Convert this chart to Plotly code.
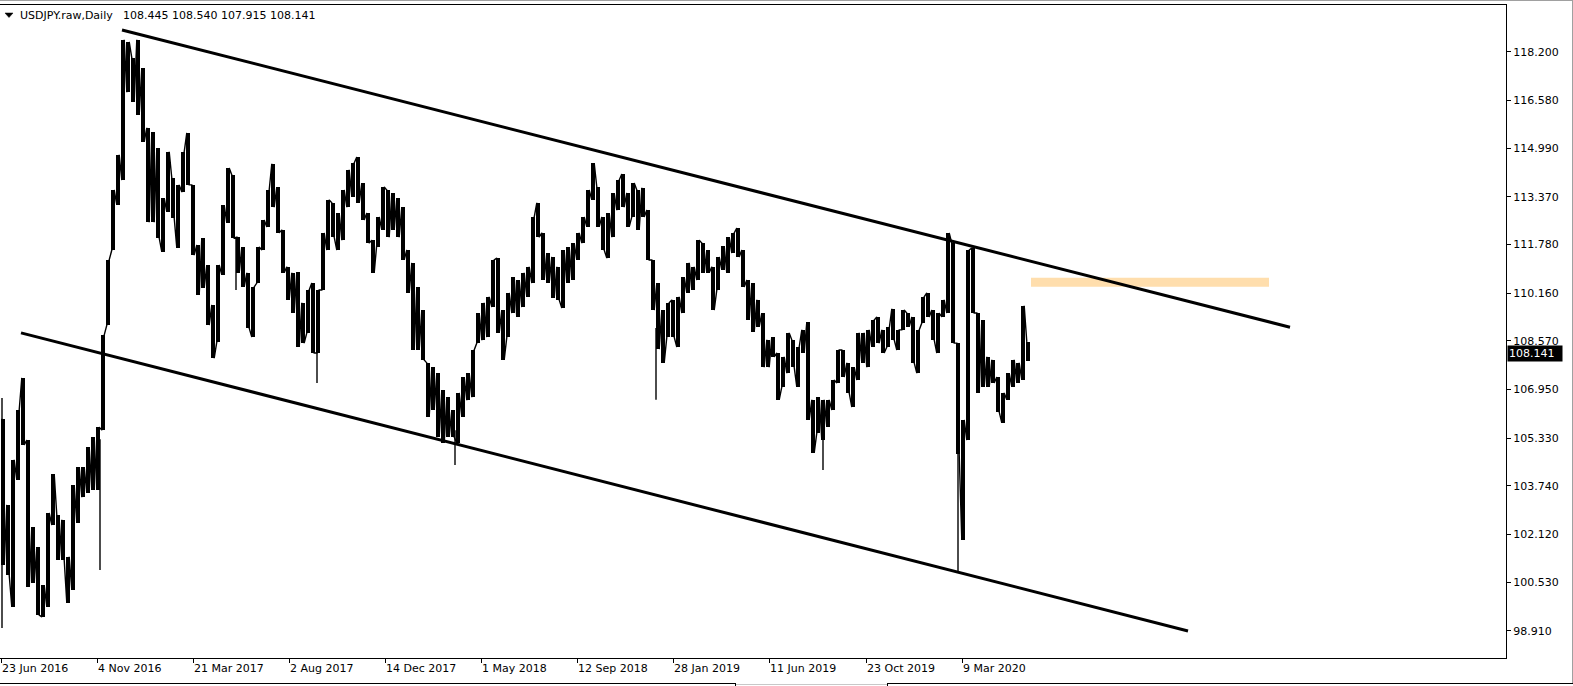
import plotly.graph_objects as go

# ---------------- data ----------------
SYMBOL = "USDJPY.raw,Daily"
LAST_OHLC = [108.445, 108.540, 107.915, 108.141]
CURRENT_PRICE = 108.141

BARS_PER_SAMPLE = 5  # each sample below summarises 5 consecutive daily bars

sample_high = [
    105.98, 103.11, 104.61, 106.27, 107.34, 105.27, 102.37, 101.71, 100.44, 102.84,
    104.14, 102.77, 102.61, 101.38, 103.77, 104.37, 104.37, 105.04, 105.37, 105.70,
    108.77, 111.27, 113.60, 114.77, 118.60, 118.53, 118.00, 118.60, 117.66, 115.67,
    115.53, 115.00, 113.33, 114.87, 114.00, 113.77, 114.87, 115.50, 113.77, 111.77,
    112.00, 111.10, 109.77, 111.10, 113.10, 114.33, 114.10, 112.03, 111.70, 110.84,
    110.37, 111.70, 112.60, 113.60, 114.47, 113.70, 112.27, 111.04, 110.84, 110.87,
    109.84, 110.27, 110.50, 110.27, 112.17, 113.27, 113.17, 112.83, 113.60, 114.27,
    114.50, 114.70, 113.83, 112.83, 111.93, 112.70, 113.70, 113.60, 113.50, 113.33,
    113.03, 111.60, 111.17, 110.37, 109.60, 107.84, 107.70, 107.50, 106.94, 106.70,
    106.27, 106.84, 107.37, 107.50, 108.27, 109.50, 109.84, 110.04, 111.27, 111.33,
    109.60, 110.17, 110.70, 110.60, 110.84, 111.04, 112.70, 113.17, 112.17, 111.50,
    111.37, 111.04, 111.60, 111.70, 111.83, 112.17, 112.70, 113.60, 114.50, 113.70,
    112.70, 112.83, 113.50, 113.93, 114.13, 113.50, 113.83, 113.60, 113.67, 112.93,
    111.27, 110.50, 109.60, 109.84, 109.94, 110.04, 110.70, 111.17, 111.04, 111.93,
    111.83, 111.60, 111.04, 111.37, 111.73, 112.03, 112.17, 112.33, 111.60, 110.60,
    110.50, 109.94, 109.50, 108.61, 108.70, 108.17, 108.04, 108.84, 108.61, 108.37,
    108.94, 109.20, 106.61, 106.70, 106.61, 106.61, 107.27, 108.27, 108.27, 107.84,
    107.70, 108.84, 108.84, 108.94, 109.27, 109.37, 108.94, 109.04, 109.64, 108.94,
    109.60, 109.50, 109.37, 108.94, 110.04, 110.17, 109.60, 109.50, 109.94, 112.17,
    111.83, 108.50, 105.94, 111.60, 111.67, 109.50, 109.27, 108.04, 107.94, 107.37,
    106.84, 107.50, 107.94, 107.84, 109.74, 108.54,
]

sample_low = [
    101.11, 100.78, 99.71, 103.94, 105.11, 100.38, 100.51, 99.44, 99.38, 99.71,
    102.44, 101.28, 101.28, 99.84, 100.28, 102.51, 103.37, 103.51, 103.61, 103.61,
    105.60, 109.10, 111.60, 113.10, 113.93, 116.86, 116.53, 116.10, 115.20, 112.53,
    112.53, 112.00, 111.54, 112.87, 112.67, 111.67, 113.53, 113.77, 111.43, 110.10,
    110.34, 109.10, 108.00, 108.54, 110.77, 112.50, 112.00, 110.84, 110.37, 109.00,
    108.70, 110.50, 111.60, 112.37, 113.03, 112.17, 110.84, 109.94, 109.50, 108.37,
    108.50, 108.84, 108.17, 108.17, 110.27, 111.60, 112.03, 111.60, 111.93, 113.03,
    113.37, 113.17, 112.60, 111.83, 110.84, 111.70, 112.27, 112.03, 112.27, 112.03,
    111.27, 110.17, 108.27, 108.27, 107.94, 106.04, 106.27, 105.37, 105.17, 105.37,
    105.37, 105.17, 106.04, 106.60, 106.70, 108.50, 108.60, 108.70, 109.70, 108.84,
    107.94, 108.70, 109.50, 109.37, 109.70, 110.04, 110.50, 112.03, 110.60, 110.50,
    110.00, 109.94, 109.67, 110.50, 110.60, 111.27, 111.83, 112.37, 113.27, 112.37,
    111.60, 111.33, 112.03, 112.93, 113.03, 112.37, 112.70, 112.27, 112.70, 111.27,
    109.60, 108.30, 107.84, 108.70, 108.70, 108.37, 109.50, 110.17, 110.27, 110.60,
    110.84, 110.84, 109.60, 110.27, 110.94, 110.84, 111.50, 111.37, 110.37, 109.27,
    108.87, 109.04, 107.70, 107.70, 108.04, 106.61, 107.04, 107.50, 107.70, 107.04,
    108.17, 105.94, 104.84, 105.51, 105.27, 105.71, 106.27, 107.17, 107.37, 106.84,
    106.37, 107.27, 107.84, 107.70, 108.37, 108.50, 108.17, 108.37, 108.61, 108.27,
    108.94, 109.04, 107.84, 107.50, 109.17, 109.37, 108.61, 108.17, 109.37, 109.50,
    108.50, 104.80, 101.94, 105.27, 109.50, 106.84, 107.04, 107.04, 107.17, 106.21,
    105.84, 106.61, 107.04, 107.17, 107.27, 107.915,
]

# single-day extremes (bar number, high, low)
wick_bar = [1, 99, 235, 316, 454, 655, 822, 957]
wick_high = [106.67, 105.30, 112.00, 108.50, 105.60, 109.00, 105.80, 105.30]
wick_low = [99.01, 100.94, 110.27, 107.17, 104.44, 106.61, 104.27, 100.88]

tick_bars = [0, 96, 192, 288, 384, 480, 576, 672, 768, 865, 961]
tick_dates = ["23 Jun 2016", "4 Nov 2016", "21 Mar 2017", "2 Aug 2017",
              "14 Dec 2017", "1 May 2018", "12 Sep 2018", "28 Jan 2019",
              "11 Jun 2019", "23 Oct 2019", "9 Mar 2020"]

price_ticks = [118.200, 116.580, 114.990, 113.370, 111.780, 110.160, 108.570,
               106.950, 105.330, 103.740, 102.120, 100.530, 98.910]

upper_channel_bar = [121, 1289]
upper_channel_price = [118.93, 109.03]
lower_channel_bar = [20, 1187]
lower_channel_price = [108.84, 98.91]

zone_bar = [1030, 1268]
zone_price = [110.38, 110.68]

# ---------------- layout constants ----------------
W, H = 1573, 686
PL, PR, PT, PB = 0, 1506, 5, 658
FONT = "DejaVu Sans"
X_RANGE = [-1, 1505]
Y_RANGE = [98.010, 119.762]


def px_x(p):
    return (p - PL) / (PR - PL)


def px_y(p):
    return (PB - p) / (PB - PT)


n = len(sample_high)
mids = [(h + l) / 2 for h, l in zip(sample_high, sample_low)]
centers = [BARS_PER_SAMPLE * k + 2 for k in range(n)]

fig = go.Figure()

# range of each 5-day group as a floating bar
fig.add_trace(go.Bar(x=centers,
                     y=[h - l for h, l in zip(sample_high, sample_low)],
                     base=sample_low, width=4.2,
                     marker=dict(color="#000000", line=dict(width=0)),
                     hoverinfo="skip", showlegend=False))

# connecting strokes in the order the price travelled
zx, zy = [], []
for k in range(n):
    prv = mids[k - 1] if k > 0 else mids[k]
    nxt = mids[k + 1] if k + 1 < n else mids[k]
    rising = nxt >= prv
    first, second = ((sample_low[k], sample_high[k]) if rising
                     else (sample_high[k], sample_low[k]))
    zx += [centers[k] - 1.2, centers[k] + 1.2]
    zy += [first, second]
fig.add_trace(go.Scatter(x=zx, y=zy, mode="lines",
                         line=dict(color="#000000", width=1.4),
                         hoverinfo="skip", showlegend=False))

wx, wy = [], []
for b, hi, lo in zip(wick_bar, wick_high, wick_low):
    wx += [b, b, None]
    wy += [hi, lo, None]
fig.add_trace(go.Scatter(x=wx, y=wy, mode="lines",
                         line=dict(color="#000000", width=1.4),
                         hoverinfo="skip", showlegend=False))

fig.add_trace(go.Scatter(x=upper_channel_bar, y=upper_channel_price, mode="lines",
                         line=dict(color="#000000", width=3), showlegend=False,
                         hoverinfo="skip"))
fig.add_trace(go.Scatter(x=lower_channel_bar, y=lower_channel_price, mode="lines",
                         line=dict(color="#000000", width=3), showlegend=False,
                         hoverinfo="skip"))

shapes = []
shapes.append(dict(type="rect", xref="x", yref="y", layer="below",
                   x0=zone_bar[0], x1=zone_bar[1], y0=zone_price[0], y1=zone_price[1],
                   fillcolor="#FFDEAD", line=dict(width=0)))

tri = (f"M {px_x(5)} {px_y(13)} L {px_x(13)} {px_y(13)} "
       f"L {px_x(9)} {px_y(17.5)} Z")
shapes.append(dict(type="path", xref="paper", yref="paper", path=tri,
                   fillcolor="#000000", line=dict(color="#000000", width=0.5)))


def hline(x0, x1, y, color):
    return dict(type="line", xref="paper", yref="paper",
                x0=px_x(x0), x1=px_x(x1), y0=px_y(y), y1=px_y(y),
                line=dict(color=color, width=1))


def vline(x, y0, y1, color):
    return dict(type="line", xref="paper", yref="paper",
                x0=px_x(x), x1=px_x(x), y0=px_y(y0), y1=px_y(y1),
                line=dict(color=color, width=1))


shapes += [hline(0, 735, 683.5, "#000000"), hline(887, 1573, 683.5, "#000000"),
           hline(735, 887, 684.5, "#c8c8c8"),
           vline(735.5, 683, 686, "#000000"), vline(887.5, 683, 686, "#000000"),
           hline(1506, 1573, 0.5, "#a0a0a0"), hline(0, 1506, 0.5, "#a0a0a0"),
           vline(1572.5, 0, 683, "#a0a0a0")]

annotations = [
    dict(xref="paper", yref="paper", x=px_x(18), y=px_y(15.5), xanchor="left",
         yanchor="middle", showarrow=False, text=SYMBOL,
         font=dict(family=FONT, size=11, color="#000000")),
    dict(xref="paper", yref="paper", x=px_x(121), y=px_y(15.5), xanchor="left",
         yanchor="middle", showarrow=False,
         text=" ".join(f"{v:.3f}" for v in LAST_OHLC),
         font=dict(family=FONT, size=11, color="#000000")),
    dict(xref="paper", yref="y", x=1, xshift=1, y=CURRENT_PRICE, xanchor="left",
         yanchor="middle", showarrow=False, text=f"{CURRENT_PRICE:.3f}",
         bgcolor="#000000", borderpad=1, width=52, align="left",
         font=dict(family=FONT, size=11, color="#ffffff")),
]

fig.update_layout(
    width=W, height=H,
    margin=dict(l=PL, r=W - PR, t=PT, b=H - PB, pad=0, autoexpand=False),
    paper_bgcolor="#ffffff", plot_bgcolor="#ffffff",
    showlegend=False, shapes=shapes, annotations=annotations,
    font=dict(family=FONT, size=11, color="#000000"),
    bargap=0,
)
fig.update_xaxes(range=X_RANGE, showgrid=False, zeroline=False, automargin=False,
                 showline=True, linecolor="#000000", linewidth=1, mirror=True,
                 ticks="outside", ticklen=4, tickcolor="#000000", tickwidth=1,
                 tickvals=tick_bars, ticktext=tick_dates,
                 ticklabelposition="outside right",
                 tickfont=dict(family=FONT, size=11, color="#000000"))
fig.update_yaxes(range=Y_RANGE, side="right", showgrid=False, zeroline=False,
                 automargin=False,
                 showline=True, linecolor="#000000", linewidth=1, mirror=True,
                 ticks="outside", ticklen=4, tickcolor="#000000", tickwidth=1,
                 tickvals=price_ticks, ticktext=[f"{v:.3f}" for v in price_ticks],
                 tickfont=dict(family=FONT, size=11, color="#000000"))

fig.write_html("out.html",
               config={"displayModeBar": False},
               post_script="document.body.style.margin='0';"
                           "document.body.style.overflow='hidden';")
